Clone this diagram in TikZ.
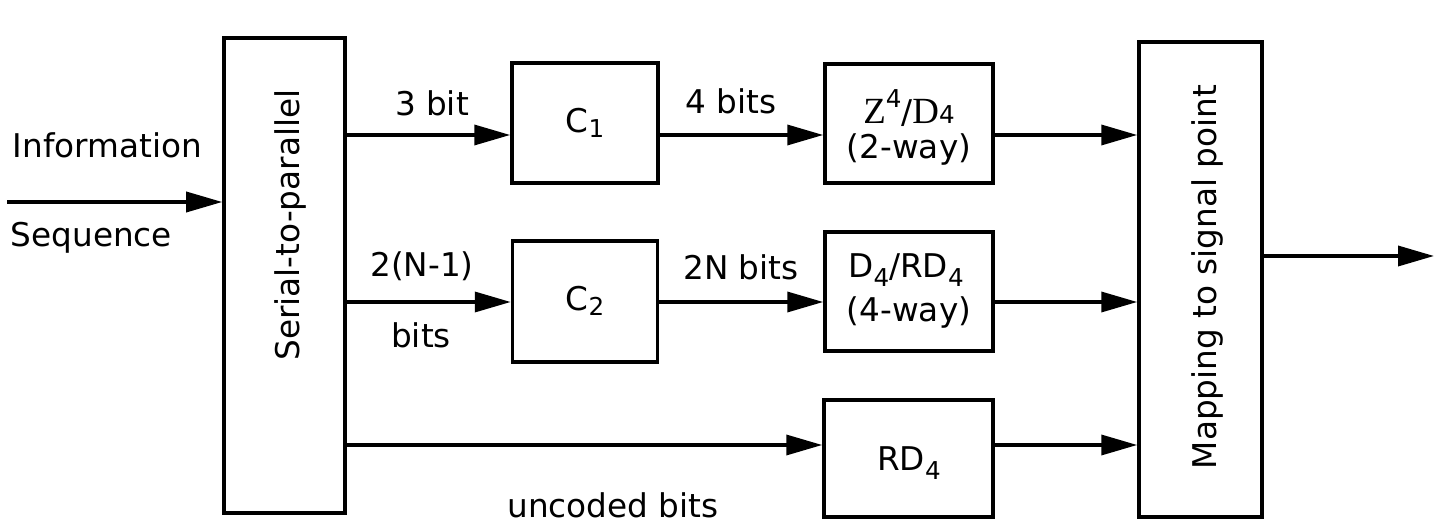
\documentclass[tikz,border=0pt]{standalone}
\usepackage{fontspec}
\setmainfont{DejaVu Sans}
\newfontfamily\serfont{Liberation Serif}
\usetikzlibrary{arrows.meta}
\begin{document}
\begin{tikzpicture}[x=0.1mm,y=-0.1mm,
  every node/.style={font=\fontsize{9.3}{11}\selectfont, inner sep=0pt},
  blk/.style={draw, line width=1pt, rectangle},
  arr/.style={line width=1pt, -{Triangle[length=3.6mm,width=2.0mm]}}]
\useasboundingbox (0,0) rectangle (1437,520);
% boxes
\node[blk, minimum width=12.1mm, minimum height=47.5mm] (ser) at (284.5,275.5) {};
\node[blk, minimum width=14.6mm, minimum height=12.0mm] (c1) at (585,123) {};
\node[blk, minimum width=14.5mm, minimum height=12.1mm] (c2) at (585,301.5) {};
\node[blk, minimum width=16.8mm, minimum height=11.9mm] (z) at (909,123.5) {};
\node[blk, minimum width=16.8mm, minimum height=11.9mm] (d) at (909,291.5) {};
\node[blk, minimum width=16.9mm, minimum height=11.7mm] (r) at (908.5,458.5) {};
\node[blk, minimum width=12.3mm, minimum height=47.5mm] (map) at (1200.5,279.5) {};
% box texts
\node[rotate=90] (sertxt) at (290,225) {Serial-to-parallel};
\node[rotate=90] (maptxt) at (1207,277) {Mapping to signal point};
\node (c1t) at (585,123) {C\raisebox{-0.3ex}{\scriptsize 1}};
\node (c2t) at (585,301) {C\raisebox{-0.3ex}{\scriptsize 2}};
\node (zt1) at (909,108) {{\serfont\fontsize{10.5}{12}\selectfont Z}\raisebox{0.9ex}{\scriptsize 4}/{\serfont\fontsize{10.5}{12}\selectfont D}{\scriptsize 4}};
\node (zt2) at (909,150) {(2-way)};
\node (dt1) at (906,270) {D\raisebox{-0.5ex}{\scriptsize 4}/RD\raisebox{-0.5ex}{\scriptsize 4}};
\node (dt2) at (909,313) {(4-way)};
\node (rt) at (909,463) {RD\raisebox{-0.5ex}{\scriptsize 4}};
% labels
\node[anchor=west] (info) at (12,145) {Information};
\node[anchor=west] (seq) at (10,238) {Sequence};
\node (l3) at (432,103) {3 bit};
\node (l2n1) at (422,266) {2(N-1)};
\node (lbits) at (421,335) {bits};
\node (l4) at (731,101) {4 bits};
\node (l2n) at (741,267) {2N bits};
\node (lunc) at (613,505) {uncoded bits};
% connectors
\coordinate (in) at (7,202);
\coordinate (out) at (1434,256);
\coordinate (r1) at (0,135);
\coordinate (r2) at (0,302);
\coordinate (r3) at (0,445);
\draw[arr] (in) -- (in -| ser.west);
\draw[arr] (ser.east |- r1) -- (c1.west |- r1);
\draw[arr] (c1.east |- r1) -- (z.west |- r1);
\draw[arr] (z.east |- r1) -- (map.west |- r1);
\draw[arr] (ser.east |- r2) -- (c2.west |- r2);
\draw[arr] (c2.east |- r2) -- (d.west |- r2);
\draw[arr] (d.east |- r2) -- (map.west |- r2);
\draw[arr] (ser.east |- r3) -- (r.west |- r3);
\draw[arr] (r.east |- r3) -- (map.west |- r3);
\draw[arr] (map.east |- out) -- (out);
\end{tikzpicture}
\end{document}
